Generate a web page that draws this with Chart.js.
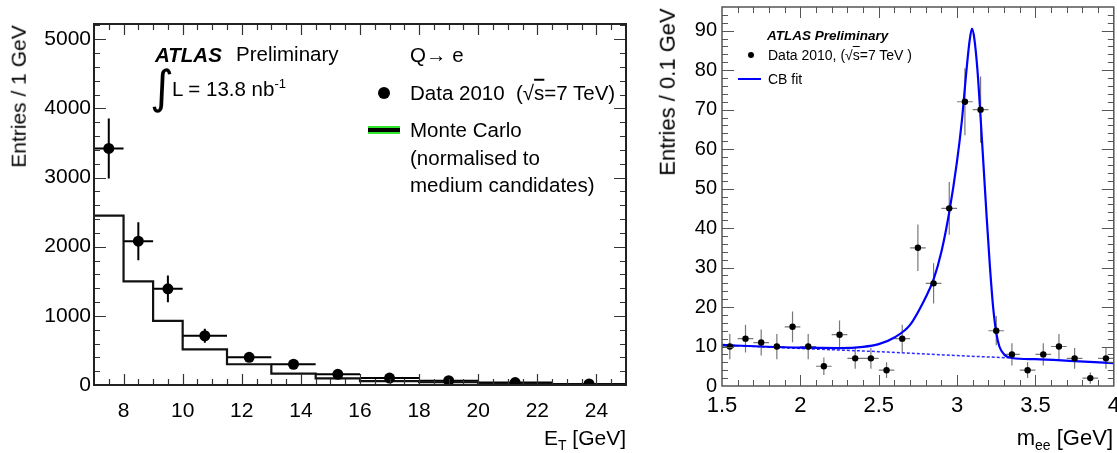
<!DOCTYPE html>
<html><head><meta charset="utf-8">
<script src="https://cdn.jsdelivr.net/npm/chart.js@4.4.1/dist/chart.umd.min.js"></script>
<style>
html,body{margin:0;padding:0;background:#fff;width:1117px;height:453px;overflow:hidden;font-family:"Liberation Sans",Arial,sans-serif;}
#wrap{position:relative;width:1117px;height:453px;}
canvas{position:absolute;top:0;}
.t{position:absolute;white-space:nowrap;color:#000;line-height:1;}
.c{transform:translateY(-50%);}
sub,sup{line-height:0;}
.ov{text-decoration:overline;}
</style></head><body>
<div id="wrap">
<canvas id="c1" width="650" height="453" style="left:0"></canvas>
<canvas id="c2" width="467" height="453" style="left:650px"></canvas>

<!-- left panel annotations -->
<div class="t c" style="left:155px;top:55px;font-size:20.5px;font-weight:bold;font-style:italic">ATLAS</div>
<div class="t c" style="left:236px;top:54px;font-size:20.5px">Preliminary</div>
<div class="t" style="left:150px;top:64px;font-size:46px;font-family:'DejaVu Sans'">∫</div>
<div class="t c" style="left:172px;top:89px;font-size:20.5px">L = 13.8 nb<sup style="font-size:13px">-1</sup></div>
<div class="t c" style="left:410px;top:55px;font-size:20.5px">Q→ e</div>
<div style="position:absolute;left:378px;top:87px;width:12px;height:12px;border-radius:6px;background:#000"></div>
<div class="t c" style="left:410px;top:93px;font-size:20.5px">Data 2010&nbsp; (√<span class="ov">s</span>=7 TeV)</div>
<div style="position:absolute;left:368px;top:126px;width:32px;height:8px;background:#2ee82e"></div>
<div style="position:absolute;left:368px;top:128px;width:32px;height:4px;background:#000"></div>
<div class="t c" style="left:410px;top:130px;font-size:20.5px">Monte Carlo</div>
<div class="t c" style="left:410px;top:158px;font-size:20.5px">(normalised to</div>
<div class="t c" style="left:410px;top:185px;font-size:20.5px">medium candidates)</div>
<div class="t c" style="right:491px;top:437px;font-size:21px">E<sub style="font-size:14px">T</sub> [GeV]</div>
<div class="t" id="yt1" style="font-size:21px">Entries / 1 GeV</div>

<!-- right panel annotations -->
<div class="t c" style="left:767px;top:36px;font-size:13.5px;font-weight:bold;font-style:italic">ATLAS Preliminary</div>
<div style="position:absolute;left:748px;top:52px;width:6px;height:6px;border-radius:3px;background:#000"></div>
<div class="t c" style="left:768px;top:55px;font-size:14px">Data 2010, (√<span class="ov">s</span>=7 TeV )</div>
<div style="position:absolute;left:738px;top:78px;width:23px;height:2px;background:#0000ff"></div>
<div class="t c" style="left:768px;top:79px;font-size:14px">CB fit</div>
<div class="t c" style="right:4px;top:438px;font-size:22px">m<sub style="font-size:14px">ee</sub> [GeV]</div>
<div class="t" id="yt2" style="font-size:22px">Entries / 0.1 GeV</div>
</div>
<script>
// ---------- Left panel: E_T distribution ----------
const etCenter  = [7.5, 8.5, 9.5, 10.75, 12.25, 13.75, 15.25, 17, 19, 21.25, 23.75];
const etBinLow  = [7, 8, 9, 10, 11.5, 13, 14.5, 16, 18, 20, 22.5];
const etBinHigh = [8, 9, 10, 11.5, 13, 14.5, 16, 18, 20, 22.5, 25];
const etData    = [3420, 2080, 1390, 712, 400, 300, 155, 100, 62, 35, 15];
const etDataErr = [435, 275, 195, 100, 45, 38, 25, 20, 15, 10, 6];
const etMC      = [2449, 1498, 928, 515, 300, 165, 97, 55, 40, 15, 10];
const etXTicks  = [8, 10, 12, 14, 16, 18, 20, 22, 24];
const etYTicks  = [0, 1000, 2000, 3000, 4000, 5000];

// ---------- Right panel: m_ee distribution ----------
const meeCenter = [1.55,1.65,1.75,1.85,1.95,2.05,2.15,2.25,2.35,2.45,2.55,2.65,2.75,2.85,2.95,3.05,3.15,3.25,3.35,3.45,3.55,3.65,3.75,3.85,3.95];
const meeData   = [10,12,11,10,15,10,5,13,7,7,4,12,35,26,45,72,70,14,8,4,8,10,7,2,7];
const meeErr    = [3.2,3.5,3.3,3.2,3.9,3.2,2.2,3.6,2.6,2.6,2.0,3.5,5.9,5.1,6.7,8.5,8.4,3.7,2.8,2.0,2.8,3.2,2.6,1.4,2.6];
const fitX = [1.5,1.75,2.0,2.25,2.4,2.5,2.6,2.7,2.8,2.85,2.9,2.95,3.0,3.03,3.06,3.08,3.095,3.11,3.13,3.15,3.17,3.19,3.21,3.23,3.25,3.27,3.3,3.35,3.5,3.75,4.0];
const fitY = [10.4,10.0,9.7,9.6,9.9,10.6,12.3,15.5,22.5,27,34,44,57,67,80,87.5,90.5,88,80,68,55,42,30,20,13.5,10,8.0,7.1,6.8,6.3,5.8];
const bkgX = [1.5,2.0,2.5,3.0,3.35];
const bkgY = [10.4,9.5,8.7,7.7,7.1];
const meeXTicks = [1.5, 2, 2.5, 3, 3.5, 4];
const meeYTicks = [0,10,20,30,40,50,60,70,80,90];

const FONT = "'Liberation Sans', Arial, sans-serif";

function range(a, b, s) { const r = []; for (let v = a; v <= b + 1e-9; v += s) r.push(+v.toFixed(4)); return r; }

function framePlugin(o) {
  return {
    id: 'frame',
    afterDatasetsDraw(chart) {
      const {ctx, chartArea: a, scales: {x, y}} = chart;
      ctx.save();
      ctx.beginPath();
      ctx.strokeStyle = o.tickColor; ctx.lineWidth = o.tickWidth;
      const vx = (v, L) => { const p = Math.round(x.getPixelForValue(v)) + 0.5; if (p < a.left+1 || p > a.right-1) return;
        ctx.moveTo(p, a.bottom); ctx.lineTo(p, a.bottom - L); ctx.moveTo(p, a.top); ctx.lineTo(p, a.top + L); };
      const vy = (v, L) => { const p = Math.round(y.getPixelForValue(v)) + 0.5; if (p < a.top+1 || p > a.bottom-1) return;
        ctx.moveTo(a.left, p); ctx.lineTo(a.left + L, p); ctx.moveTo(a.right, p); ctx.lineTo(a.right - L, p); };
      o.xMinor.forEach(v => vx(v, o.xMinL)); o.xMajor.forEach(v => vx(v, o.xMajL));
      o.yMinor.forEach(v => vy(v, o.yMinL)); o.yMajor.forEach(v => vy(v, o.yMajL));
      ctx.stroke();
      ctx.strokeStyle = o.frameColor; ctx.lineWidth = o.frameWidth;
      ctx.strokeRect(a.left, a.top, a.right - a.left, a.bottom - a.top);
      ctx.restore();
    }
  };
}

function errPlugin(o) {
  return {
    id: 'errbars',
    beforeDatasetsDraw(chart) {
      const {ctx, scales: {x, y}, chartArea: a} = chart;
      ctx.save();
      ctx.beginPath();
      ctx.rect(a.left, a.top, a.right - a.left, a.bottom - a.top); ctx.clip();
      ctx.beginPath();
      ctx.strokeStyle = o.color; ctx.lineWidth = o.width;
      o.cx.forEach((c, i) => {
        const px = x.getPixelForValue(c), py = y.getPixelForValue(o.val[i]);
        ctx.moveTo(px, y.getPixelForValue(o.val[i] - o.err[i])); ctx.lineTo(px, y.getPixelForValue(o.val[i] + o.err[i]));
        ctx.moveTo(x.getPixelForValue(o.lo[i]), py); ctx.lineTo(x.getPixelForValue(o.hi[i]), py);
      });
      ctx.stroke();
      ctx.restore();
    }
  };
}

function axisCommon(min, max, ticks, fontSize, pad, fitSize, horiz) {
  return {
    type: 'linear', min, max,
    grid: {display: false, drawTicks: false},
    border: {display: false},
    afterBuildTicks: s => { s.ticks = ticks.map(v => ({value: v})); },
    afterFit: s => { if (horiz) { s.height = fitSize; s.paddingLeft = 0; s.paddingRight = 0; } else { s.width = fitSize; s.paddingTop = 0; s.paddingBottom = 0; } },
    ticks: {color: '#000', font: {family: FONT, size: fontSize}, padding: pad, maxRotation: 0, autoSkip: false,
            callback: v => String(v)}
  };
}

// Left chart geometry: frame 94..626 x 24..385
new Chart(document.getElementById('c1'), {
  data: {
    datasets: [
      {type: 'scatter', data: etCenter.map((c, i) => ({x: c, y: etData[i]})), pointRadius: 5.5, pointHoverRadius: 5.5,
       backgroundColor: '#000', borderColor: '#000', borderWidth: 0},
      {type: 'line', data: etBinLow.map((c, i) => ({x: c, y: etMC[i]})).concat([{x: etBinHigh[etBinHigh.length-1], y: etMC[etMC.length-1]}]),
       stepped: 'before', borderColor: '#111', borderWidth: 2.2, pointRadius: 0, fill: false}
    ]
  },
  options: {
    responsive: false, animation: false, devicePixelRatio: 1,
    layout: {padding: {left: 0, right: 24, top: 24, bottom: 0}},
    plugins: {legend: {display: false}, tooltip: {enabled: false}},
    scales: {
      x: axisCommon(7, 25, etXTicks, 21, 14, 68, true),
      y: axisCommon(0, 5220, etYTicks, 21, 3, 94, false)
    }
  },
  plugins: [
    errPlugin({cx: etCenter, val: etData, err: etDataErr, lo: etBinLow, hi: etBinHigh, color: '#000', width: 2}),
    framePlugin({xMajor: range(8, 24, 2), xMinor: range(7, 25, 0.5), yMajor: etYTicks, yMinor: range(0, 5200, 200),
                 xMajL: 11, xMinL: 6, yMajL: 12, yMinL: 6, tickColor: '#333', tickWidth: 1.2, frameColor: '#222', frameWidth: 2})
  ]
});

// Right chart geometry: frame 722..1114 x 7..386 (canvas offset 650)
new Chart(document.getElementById('c2'), {
  data: {
    datasets: [
      {type: 'scatter', data: meeCenter.map((c, i) => ({x: c, y: meeData[i]})), pointRadius: 3.2, pointHoverRadius: 3.2,
       backgroundColor: '#000', borderColor: '#000', borderWidth: 0},
      {type: 'line', data: fitX.map((c, i) => ({x: c, y: fitY[i]})), cubicInterpolationMode: 'monotone',
       borderColor: '#0000ff', borderWidth: 2.2, pointRadius: 0, fill: false},
      {type: 'line', data: bkgX.map((c, i) => ({x: c, y: bkgY[i]})), cubicInterpolationMode: 'monotone',
       borderColor: '#2a2aff', borderWidth: 1.5, borderDash: [3, 2], pointRadius: 0, fill: false}
    ]
  },
  options: {
    responsive: false, animation: false, devicePixelRatio: 1,
    layout: {padding: {left: 0, right: 3, top: 7, bottom: 0}},
    plugins: {legend: {display: false}, tooltip: {enabled: false}},
    scales: {
      x: axisCommon(1.5, 4, meeXTicks, 22, 7, 67, true),
      y: axisCommon(0, 96, meeYTicks, 20, 5, 72, false)
    }
  },
  plugins: [
    errPlugin({cx: meeCenter, val: meeData, err: meeErr, lo: meeCenter.map(c => c - 0.05), hi: meeCenter.map(c => c + 0.05), color: '#777', width: 1.2}),
    framePlugin({xMajor: meeXTicks, xMinor: range(1.5, 4, 0.1), yMajor: meeYTicks, yMinor: range(0, 96, 2),
                 xMajL: 11, xMinL: 6, yMajL: 12, yMinL: 6, tickColor: '#555', tickWidth: 1, frameColor: '#555', frameWidth: 1.5})
  ]
});

// rotated y titles
function placeYTitle(id, cx, topY) {
  const el = document.getElementById(id);
  const w = el.offsetWidth, h = el.offsetHeight;
  el.style.left = (cx - w / 2) + 'px';
  el.style.top = (topY + w / 2 - h / 2) + 'px';
  el.style.transform = 'rotate(-90deg)';
}
placeYTitle('yt1', 18, 25);
placeYTitle('yt2', 668, 8);
</script>
</body></html>
